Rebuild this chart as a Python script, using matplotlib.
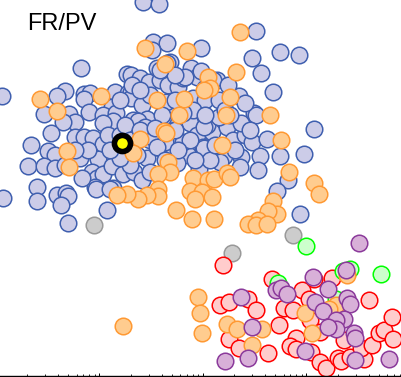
import numpy as np
import matplotlib
matplotlib.use("Agg")
import matplotlib.pyplot as plt

plt.rcParams['font.family'] = ['Liberation Sans', 'DejaVu Sans']

# log10 of FR / PV level
blue_logfr = [.420, .575, .517, .652, .507, .981, -.179, -.942, -.333, -.411,
              -.536, -.295, -.237, -.353, -.150, -.092, -.150, -.101, .150, .121,
              .034, .159, .130, .034, .266, .304, .391, .478, .275, .304,
              .304, .314, .556, .681, .652, .585, .662, .758, .884, .807,
              .942, .981, .411, .662, .614, .874, .942, .903, 1.019, .643,
              .324, .459, .372, .440, -.469, -.662, -.237, -.150, -.063, .034,
              .082, -.498, -.430, -.691, -.536, -.430, -.188, -.014, -.072, -.024,
              .034, .121, .227, .333, .411, -.604, -.411, -.324, -.304, .130,
              -.043, .459, .362, .585, .700, .488, .826, .952, .855, .749,
              .507, .633, .556, .807, .942, 1.087, 1.039, 1.232, 1.290, 1.406,
              1.473, 1.618, 1.367, 1.493, 1.512, 1.155, 1.155, 1.348, 1.406, 1.135,
              1.097, 1.512, 1.473, 1.744, 1.928, 1.560, 1.676, 2.072, 1.976, 1.744,
              1.551, 1.367, 1.203, 1.048, 1.000, 1.164, 1.358, 1.531, .961, 1.821,
              1.715, -.932, -.604, -.372, -.304, .072, 1.937, -.034, .101, 1.010,
              1.010, .826, .903, .807, .604, .266, .150, .295, .488, -.111,
              .198, .246, -.237, -.333, -.169, .198, .101, .295, .391, .536,
              .729, .874, .758, .633, 1.068, .923, 1.309, 1.116, 1.213, 1.019,
              .729, .488, .391, .198, 1.019, 1.242, .729, .585, 1.454, 1.261]
blue_pv = [3.74, 3.72, 3.34, 3.33, 3.26, 3.28, 3.08, 2.80, 2.85, 2.80,
           2.62, 2.62, 2.54, 2.54, 2.82, 2.83, 2.77, 2.64, 2.84, 2.69,
           2.61, 2.63, 2.55, 2.53, 3.02, 3.01, 2.98, 2.94, 2.83, 2.84,
           2.78, 2.91, 3.08, 3.14, 3.13, 2.96, 2.91, 2.89, 3.08, 2.98,
           2.99, 3.05, 2.71, 2.61, 2.59, 2.53, 2.69, 2.78, 2.76, 2.74,
           2.56, 2.57, 2.55, 2.49, 2.43, 2.31, 2.39, 2.39, 2.38, 2.32,
           2.41, 2.25, 2.21, 2.10, 2.10, 2.08, 2.18, 2.17, 2.04, 1.98,
           2.02, 2.10, 2.02, 2.04, 1.96, 1.89, 1.81, 1.83, 1.80, 1.88,
           1.89, 2.18, 2.21, 2.28, 2.30, 2.36, 2.26, 2.28, 2.21, 2.13,
           2.39, 2.34, 2.29, 2.34, 2.41, 2.44, 2.51, 2.49, 2.36, 2.41,
           2.34, 2.37, 2.53, 2.63, 2.61, 2.59, 2.76, 2.80, 2.73, 2.96,
           2.96, 3.45, 3.18, 3.24, 3.21, 3.03, 2.84, 2.47, 2.22, 2.20,
           2.20, 2.19, 2.20, 2.24, 2.29, 2.14, 2.09, 2.06, 2.07, 1.96,
           1.85, 1.78, 1.75, 1.71, 1.53, 1.66, 1.62, 1.87, 1.87, 2.49,
           2.28, 2.99, 2.66, 2.63, 2.61, 2.26, 2.26, 2.11, 2.04, 2.26,
           2.41, 2.51, 2.26, 2.11, 1.98, 2.18, 2.26, 2.36, 2.46, 2.48,
           2.46, 2.36, 2.26, 2.16, 2.16, 2.16, 2.26, 2.31, 2.66, 2.61,
           2.76, 2.81, 2.86, 2.76, 2.88, 2.91, 3.01, 3.06, 2.46, 2.61]

orange_logfr = [.440, .845, .633, 1.358, 1.319, 1.048, 1.068, 1.010, 1.261, -.575,
                -.411, .014, .556, .816, .768, 1.222, 1.647, .391, .324, .623,
                .643, -.314, -.295, 1.184, 1.754, .662, .681, .565, .903, 1.048,
                1.106, 1.232, 1.261, .874, .990, 1.087, .923, .565, .565, .459,
                .372, .266, .169, .739, .894, 1.106, 1.831, 2.072, 2.121, 1.676,
                1.715, 1.628, 1.531, 1.435, 1.512, 1.618, .952, .971, .990, .227,
                1.232, 1.329, 1.570, 1.473, 1.986, 2.053, 2.285, 2.217, 2.391]
orange_pv = [3.28, 3.25, 3.12, 3.44, 3.04, 2.99, 2.88, 2.86, 2.79, 2.77,
             2.65, 2.80, 2.76, 2.77, 2.61, 2.61, 2.61, 2.37, 2.23, 2.45,
             2.43, 2.25, 2.09, 2.31, 2.36, 2.14, 2.04, 2.02, 1.98, 1.96,
             1.97, 2.03, 1.99, 1.85, 1.84, 1.79, 1.77, 1.87, 1.80, 1.81,
             1.77, 1.82, 1.81, 1.66, 1.57, 1.57, 2.04, 1.93, 1.82, 1.75,
             1.62, 1.65, 1.56, 1.52, 1.51, 1.52, .79, .63, .43, .50,
             .52, .47, .47, .31, .63, .43, .71, .67, 1.01]

red_logfr = [1.193, 1.667, 1.164, 1.251, 1.435, 1.512, 1.734, 1.251, 1.348, 1.628,
             1.783, 1.870, 1.957, 2.072, 2.246, 2.024, 2.034, 2.130, 1.899, 1.841,
             1.899, 2.043, 2.130, 2.188, 2.304, 2.333, 2.420, 2.556, 2.527, 2.633,
             2.362, 2.700, 2.749, 2.836, 2.826, 2.604]
red_pv = [1.11, .97, .71, .74, .77, .66, .51, .37, .28, .23,
          .68, .66, .86, .97, .98, .77, .56, .44, .38, .30,
          .27, .24, .14, .08, .18, .15, .19, .17, .28, .31,
          .36, .43, .46, .37, .59, .76]

green_logfr = [1.995, 1.725, 2.353, 2.420, 2.720, 2.285]
green_pv = [1.30, .93, 1.05, 1.07, 1.02, .77]

purple_logfr = [2.507, 2.382, 2.063, 2.208, 1.705, 1.754, 1.812, 1.367, 2.391, 2.420,
                2.082, 2.159, 2.362, 2.285, 2.285, 2.208, 2.459, 2.469, 1.473, 1.986,
                2.469, 1.435, 1.213, 2.797]
purple_pv = [1.33, 1.06, .99, .87, .86, .88, .82, .79, .78, .72,
             .74, .65, .57, .56, .47, .49, .43, .38, .49, .25,
             .16, .18, .15, .17]

gray_logfr = [-.053, 1.870, 1.280]
gray_pv = [1.51, 1.41, 1.23]

star_logfr = [.217]
star_pv = [2.33]

# (values, pv, face, edge), in drawing order
groups = [
    (blue_logfr, blue_pv, '#CCCCE8', '#3F5FAF'),
    (gray_logfr, gray_pv, '#CCCCCC', '#999999'),
    (red_logfr, red_pv, '#FFCCCC', '#FF0000'),
    (green_logfr, green_pv, '#CCFFCC', '#00FF00'),
    (orange_logfr, orange_pv, '#FFCC8F', '#FF9933'),
    (purple_logfr, purple_pv, '#D8B0D8', '#8B3A9B'),
]

fig = plt.figure(figsize=(4.02, 3.77), dpi=100)
ax = fig.add_axes([0, 1 / 377, 1, 376 / 377])

for logfr, pv, face, edge in groups:
    ax.scatter(10 ** np.array(logfr), pv, s=142, c=face, edgecolors=edge, linewidths=1.1)

ax.scatter(10 ** np.array(star_logfr), star_pv, s=135, c='yellow', edgecolors='black', linewidths=4.0)

ax.set_xscale('log')
ax.set_xlim(10 ** -0.961, 10 ** 2.923)
ax.set_ylim(0, 3.76)

for side in ['left', 'right', 'top']:
    ax.spines[side].set_visible(False)
ax.spines['bottom'].set_linewidth(1.0)
ax.set_yticks([])
ax.tick_params(axis='x', which='major', direction='in', length=2.4, width=0.7, labelbottom=False)
ax.tick_params(axis='x', which='minor', direction='in', length=1.1, width=0.6, labelbottom=False)
ax.xaxis.set_minor_locator(matplotlib.ticker.LogLocator(base=10, subs=range(2, 10), numticks=12))
ax.xaxis.set_minor_formatter(matplotlib.ticker.NullFormatter())

fig.text(27 / 402, 1 - 30 / 377, 'FR/PV', fontsize=17, color='black')

fig.savefig('out.png', dpi=100)
